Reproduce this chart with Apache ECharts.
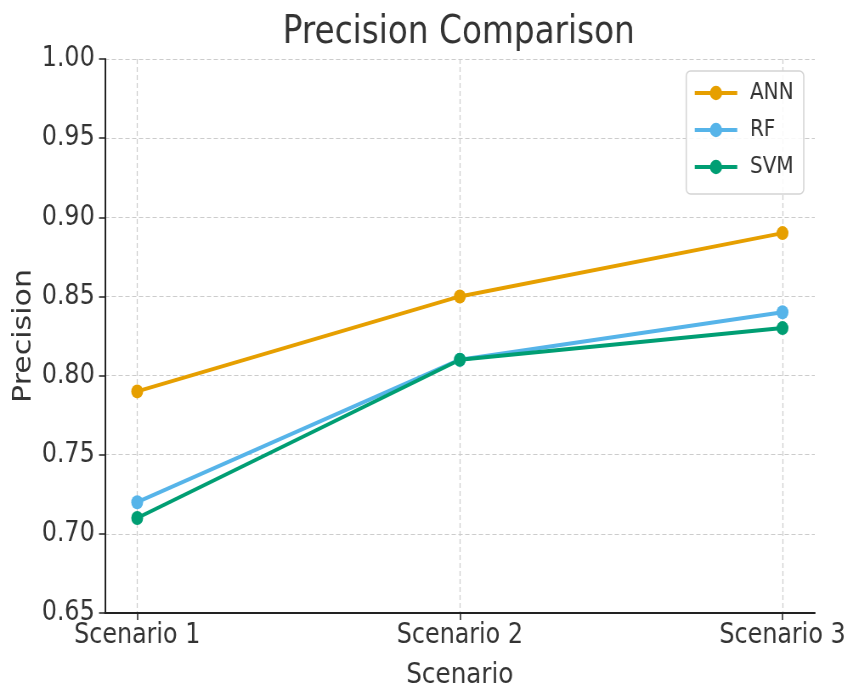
<!DOCTYPE html>
<html>
<head>
<meta charset="utf-8">
<script src="https://cdn.jsdelivr.net/npm/echarts@6/dist/echarts.min.js"></script>
<style>
  html, body { margin: 0; padding: 0; background: #fff; overflow: hidden; }
  #wrap { width: 853px; height: 691px; overflow: hidden; }
  /* chart is laid out wider and compressed horizontally */
  #chart { width: 1004px; height: 691px; transform: scaleX(0.8496); transform-origin: 0 0; }
</style>
</head>
<body>
<div id="wrap"><div id="chart"></div></div>
<script>
const scenarios = ['Scenario 1', 'Scenario 2', 'Scenario 3'];
const annValues = [0.79, 0.85, 0.89];
const rfValues = [0.72, 0.81, 0.84];
const svmValues = [0.71, 0.81, 0.83];
const yTicks = [0.65, 0.70, 0.75, 0.80, 0.85, 0.90, 0.95, 1.00];

const FONT = 'DejaVu Sans';
const TEXT = '#333333';

function pairs(vals) {
  return vals.map((v, i) => [i, v]);
}

function lineSeries(name, vals, color) {
  return {
    name: name,
    type: 'line',
    data: pairs(vals),
    symbol: 'circle',
    symbolSize: 14,
    lineStyle: { color: color, width: 4 },
    itemStyle: { color: color },
    emphasis: { disabled: true },
    z: 3
  };
}

const chart = echarts.init(document.getElementById('chart'), null, { renderer: 'canvas' });
chart.setOption({
  animation: false,
  backgroundColor: '#ffffff',
  title: {
    text: 'Precision Comparison',
    left: 535,
    textAlign: 'center',
    top: 8,
    textStyle: { fontFamily: FONT, fontSize: 38.5, fontWeight: 'normal', color: TEXT }
  },
  legend: {
    orient: 'vertical',
    right: 58,
    top: 71,
    data: ['ANN', 'RF', 'SVM'],
    itemWidth: 50,
    itemHeight: 18,
    itemGap: 13,
    padding: [10, 12, 15, 8],
    backgroundColor: 'rgba(255,255,255,0.85)',
    borderColor: '#d4d4d4',
    borderWidth: 1.5,
    borderRadius: 5,
    itemStyle: { borderWidth: 0 },
    lineStyle: { width: 4 },
    textStyle: { fontFamily: FONT, fontSize: 23.5, color: TEXT, padding: [0, 0, 0, 10] }
  },
  grid: { left: 123.5, right: 45, top: 59, bottom: 78, containLabel: false, outerBoundsMode: 'none' },
  xAxis: {
    type: 'value',
    min: -0.1,
    max: 2.1,
    name: 'Scenario',
    nameLocation: 'middle',
    nameGap: 48,
    nameMoveOverlap: false,
    nameTextStyle: { fontFamily: FONT, fontSize: 29, color: TEXT },
    axisLine: { show: true, onZero: false, lineStyle: { color: '#222', width: 2 } },
    axisTick: { show: true, length: 7, customValues: [0, 1, 2], lineStyle: { color: '#222', width: 1.5 } },
    axisLabel: {
      customValues: [0, 1, 2],
      margin: 9,
      fontFamily: FONT, fontSize: 28, color: TEXT,
      formatter: v => scenarios[Math.round(v)]
    },
    splitLine: { show: true, lineStyle: { color: '#cccccc', width: 1.2, type: [5, 3] } }
  },
  yAxis: {
    type: 'value',
    min: 0.65,
    max: 1.0,
    interval: 0.05,
    name: 'Precision',
    nameLocation: 'middle',
    nameGap: 80,
    nameMoveOverlap: false,
    nameTextStyle: { fontFamily: FONT, fontSize: 30, color: TEXT },
    axisLine: { show: true, onZero: false, lineStyle: { color: '#222', width: 2 } },
    axisTick: { show: true, length: 7, lineStyle: { color: '#222', width: 1.5 } },
    axisLabel: {
      margin: 12,
      fontFamily: FONT, fontSize: 28, color: TEXT,
      formatter: v => v.toFixed(2)
    },
    splitLine: { show: true, lineStyle: { color: '#cccccc', width: 1.2, type: [5, 3] } }
  },
  series: [
    lineSeries('ANN', annValues, '#E69F00'),
    lineSeries('RF', rfValues, '#56B4E9'),
    lineSeries('SVM', svmValues, '#009E73')
  ]
});
</script>
</body>
</html>
